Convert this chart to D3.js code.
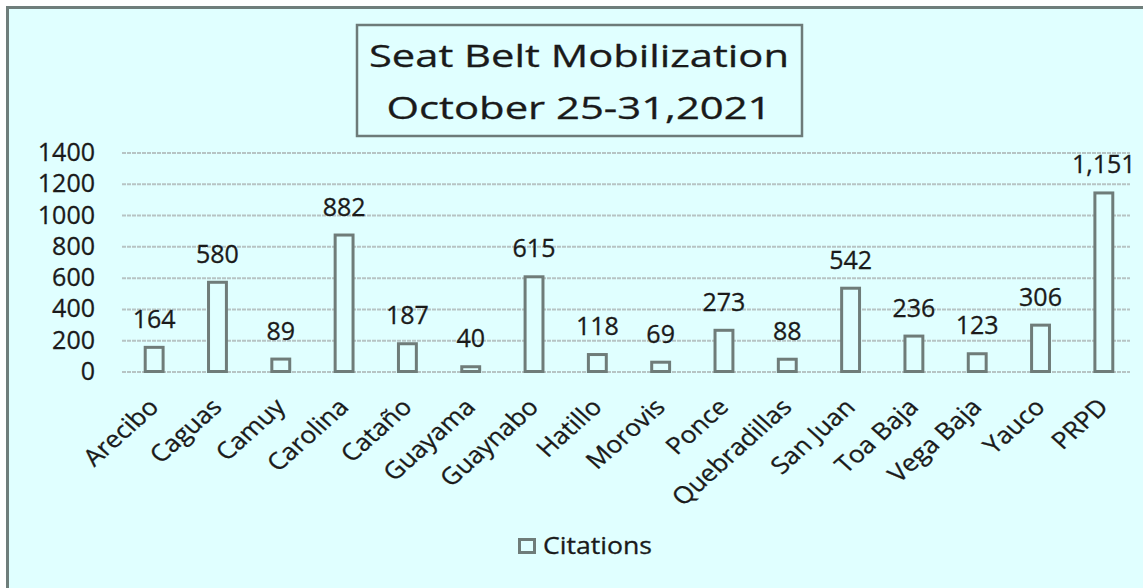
<!DOCTYPE html>
<html>
<head>
<meta charset="utf-8">
<script src="https://cdn.jsdelivr.net/npm/d3@7"></script>
<style>
  html, body { margin: 0; padding: 0; background: #ffffff; }
  svg { display: block; }
  text { font-family: "Open Sans", "Noto Sans", sans-serif; fill: #1a1a1a; stroke: #1a1a1a; stroke-width: 0.3px; }
</style>
</head>
<body>
<svg id="chart" width="1143" height="588"></svg>
<script>
const categories = ["Arecibo", "Caguas", "Camuy", "Carolina", "Cataño", "Guayama", "Guaynabo", "Hatillo",
  "Morovis", "Ponce", "Quebradillas", "San Juan", "Toa Baja", "Vega Baja", "Yauco", "PRPD"];
const citations = [164, 580, 89, 882, 187, 40, 615, 118, 69, 273, 88, 542, 236, 123, 306, 1151];
const yTicks = [0, 200, 400, 600, 800, 1000, 1200, 1400];
const titleLines = ["Seat Belt Mobilization", "October 25-31,2021"];
const seriesName = "Citations";

const svg = d3.select("#chart");
const bg = "#E0FFFF";
const frameColor = "#6f7e7b";
const barStroke = "#6f7c79";
const gridColor = "#b7c4c4";

// outer frame
svg.append("rect")
  .attr("x", 7.5).attr("y", 7.5)
  .attr("width", 1160).attr("height", 600)
  .attr("fill", bg).attr("stroke", frameColor).attr("stroke-width", 3);

const x = d3.scaleBand().domain(categories).range([122.5, 1135.5])
  .paddingInner(0.67).paddingOuter(0.335);
const y = d3.scaleLinear().domain([0, 1400]).range([371.5, 152.5]);

// gridlines + y labels
const yAxis = svg.append("g").attr("transform", "translate(122,0)")
  .call(d3.axisLeft(y).tickValues(yTicks).tickSize(-(1130 - 122)).tickPadding(27).tickFormat(d3.format("d")));
yAxis.select(".domain").remove();
yAxis.selectAll(".tick line").attr("stroke", gridColor).attr("stroke-width", 2).attr("stroke-dasharray", "4,1");
yAxis.selectAll(".tick text").attr("font-size", 25).attr("fill", "#1a1a1a")
  .attr("font-family", "'Open Sans', sans-serif");

// bars
svg.append("g").selectAll("rect").data(citations).join("rect")
  .attr("x", (d, i) => x(categories[i]) + 1.5)
  .attr("width", x.bandwidth() - 3)
  .attr("y", d => y(d) + 1.5)
  .attr("height", d => y(0) - y(d) - 1.5)
  .attr("fill", bg).attr("stroke", barStroke).attr("stroke-width", 3);

// data labels
const fmt = d3.format(",");
svg.append("g").selectAll("text").data(citations).join("text")
  .attr("x", (d, i) => x(categories[i]) + x.bandwidth() / 2)
  .attr("y", d => y(d) - 18)
  .attr("text-anchor", "middle")
  .attr("font-size", 25)
  .text(d => fmt(d));

// x axis labels
const xAxis = svg.append("g").attr("transform", `translate(0,${y(0)})`)
  .call(d3.axisBottom(x).tickSize(0));
xAxis.select(".domain").remove();
xAxis.selectAll(".tick text")
  .attr("y", 0).attr("dy", 0)
  .attr("transform", "translate(6,37) scale(1.12,1) rotate(-45)")
  .attr("text-anchor", "end")
  .attr("font-size", 23.5)
  .attr("fill", "#1a1a1a")
  .attr("font-family", "'Open Sans', sans-serif");

// title box
svg.append("rect")
  .attr("x", 357).attr("y", 25).attr("width", 445).attr("height", 111)
  .attr("fill", bg).attr("stroke", "#6d7b79").attr("stroke-width", 2.5);
const titleBaselines = [67, 119];
const titleWidths = [420, 385];
svg.append("g").selectAll("text").data(titleLines).join("text")
  .attr("x", 579).attr("y", (d, i) => titleBaselines[i])
  .attr("text-anchor", "middle")
  .attr("font-size", 31)
  .attr("textLength", (d, i) => titleWidths[i])
  .attr("lengthAdjust", "spacingAndGlyphs")
  .text(d => d);

// legend
svg.append("rect")
  .attr("x", 519.5).attr("y", 539.5).attr("width", 15).attr("height", 13)
  .attr("fill", bg).attr("stroke", barStroke).attr("stroke-width", 3);
svg.append("text")
  .attr("x", 543).attr("y", 554)
  .attr("font-size", 23)
  .attr("textLength", 109).attr("lengthAdjust", "spacingAndGlyphs")
  .text(seriesName);
</script>
</body>
</html>
